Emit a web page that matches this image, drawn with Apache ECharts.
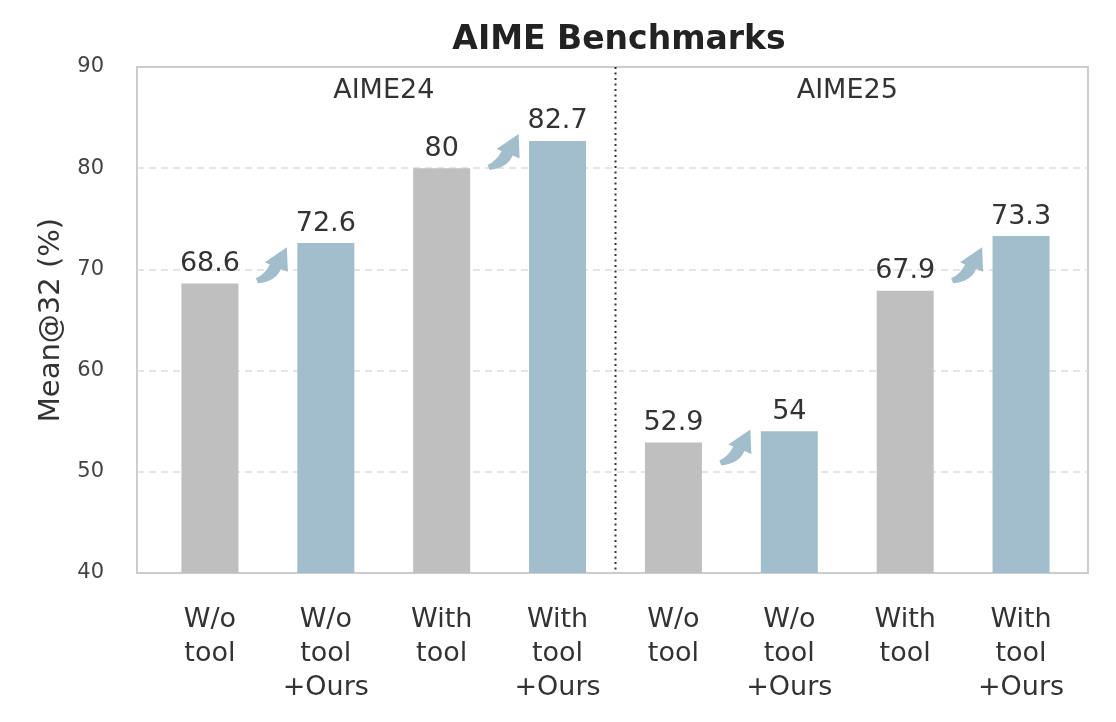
<!DOCTYPE html>
<html><head><meta charset="utf-8">
<script src="https://cdn.jsdelivr.net/npm/echarts@6/dist/echarts.min.js"></script>
<style>html,body{margin:0;padding:0;background:#fff}#c{width:1116px;height:722px}</style>
</head><body><div id="c"></div>
<script>
// ---- data ----
const categories = ['W/o\ntool', 'W/o\ntool\n+Ours', 'With\ntool', 'With\ntool\n+Ours',
                    'W/o\ntool', 'W/o\ntool\n+Ours', 'With\ntool', 'With\ntool\n+Ours'];
const values = [68.6, 72.6, 80, 82.7, 52.9, 54, 67.9, 73.3];
const groupNames = ['AIME24', 'AIME25'];
const groupStarts = [0, 4];
const arrowFrom = [0, 2, 4, 6];          // arrow sits between bar i and bar i+1
const arrowLevel = [70.4, 81.6, 52.4, 70.4]; // arrow centre height (value units)
const yTicks = [40, 50, 60, 70, 80, 90];

// ---- styles ----
const FONT = 'DejaVu Sans';
const GRAY = '#bfbfbf';
const BLUE = '#a2bdcb';
const TXT = '#333333';
const ARROW = 'M31,0 L9,15 L14,17.1 Q9,27 0,31 L2,36 Q20,34 25,21.6 L32,24.5 Z';

const yMin = yTicks[0], yMax = yTicks[yTicks.length - 1], yStep = yTicks[1] - yTicks[0];

const chart = echarts.init(document.getElementById('c'), null, {renderer: 'canvas'});
chart.setOption({
  animation: false,
  backgroundColor: '#ffffff',
  title: {
    text: 'AIME Benchmarks', left: 614, top: 19, textAlign: 'center',
    textStyle: {fontFamily: FONT, fontSize: 33, fontWeight: 'bold', color: '#222'}
  },
  grid: [
    {left: 152, right: 37, top: 67, bottom: 149},
    {left: 137, right: 28, top: 67, bottom: 149, show: true, borderColor: '#cccccc', borderWidth: 2, backgroundColor: 'transparent'}
  ],
  xAxis: [
    {type: 'category', gridIndex: 0, data: categories,
     axisLine: {show: false}, axisTick: {show: false},
     axisLabel: {interval: 0, margin: 30, fontFamily: FONT, fontSize: 27, lineHeight: 34, color: TXT}},
    {type: 'value', gridIndex: 1, show: false, min: 0, max: 1}
  ],
  yAxis: [
    {type: 'value', gridIndex: 0, show: false, min: yMin, max: yMax, interval: yStep},
    {type: 'value', gridIndex: 1, min: yMin, max: yMax, interval: yStep,
     name: 'Mean@32 (%)', nameLocation: 'middle', nameGap: 70,
     nameTextStyle: {fontFamily: FONT, fontSize: 29, color: TXT},
     axisLine: {show: false}, axisTick: {show: false},
     axisLabel: {margin: 33, fontFamily: FONT, fontSize: 21, color: '#444'},
     splitLine: {show: true, showMinLine: false, showMaxLine: false,
                 lineStyle: {color: '#dddddd', width: 1.5, type: [7, 5]}}}
  ],
  series: [
    {type: 'bar', xAxisIndex: 0, yAxisIndex: 0, data: values, barWidth: 57,
     itemStyle: {color: p => categories[p.dataIndex].indexOf('+Ours') >= 0 ? BLUE : GRAY},
     label: {show: true, position: 'top', distance: 6, fontFamily: FONT, fontSize: 27, color: TXT,
             formatter: p => String(p.value)}},
    {type: 'custom', xAxisIndex: 0, yAxisIndex: 0, clip: false, silent: true, z: 3,
     data: arrowFrom.map((f, k) => [f, arrowLevel[k]]),
     renderItem: function (params, api) {
       const i = api.value(0), v = api.value(1);
       const a = api.coord([i, v]), b = api.coord([i + 1, v]);
       const cx = (a[0] + b[0]) / 2 + 4, cy = a[1];
       return {type: 'path', shape: {pathData: ARROW, x: cx - 16, y: cy - 18, width: 32, height: 36},
               style: {fill: BLUE}};
     }},
    {type: 'custom', xAxisIndex: 0, yAxisIndex: 0, clip: false, silent: true, z: 3,
     data: groupStarts.map(s => [s, yMax]),
     renderItem: function (params, api) {
       const s = api.value(0);
       const a = api.coord([s + 1, yMax]), b = api.coord([s + 2, yMax]);
       const children = [{type: 'text', x: (a[0] + b[0]) / 2, y: a[1] + 24,
         style: {text: groupNames[params.dataIndex], fontFamily: FONT, fontSize: 27, fill: TXT,
                 align: 'center', verticalAlign: 'middle'}}];
       if (s > 0) {
         const p = api.coord([s - 1, yMax]), q = api.coord([s, yMin]);
         const x = (p[0] + q[0]) / 2;
         children.push({type: 'line', shape: {x1: x, y1: p[1], x2: x, y2: q[1]},
           style: {stroke: '#333333', lineWidth: 2, lineDash: [2, 3.5]}});
       }
       return {type: 'group', children: children};
     }}
  ]
});
</script></body></html>
